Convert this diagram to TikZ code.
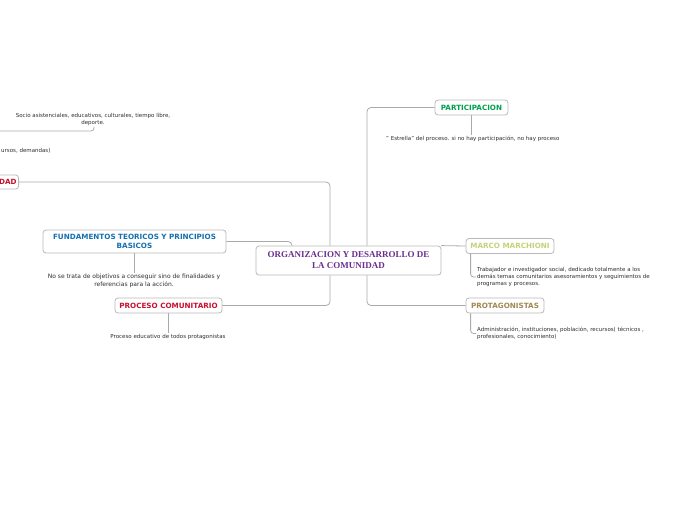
\documentclass[tikz,border=0pt]{standalone}
\usepackage{fontspec}
\setmainfont{DejaVu Sans}
\newfontfamily\titlefont{Liberation Serif}
\usepackage{tikz}
\usetikzlibrary{positioning,calc}
\definecolor{boxgray}{RGB}{185,185,185}
\definecolor{linegray}{RGB}{170,170,170}
\definecolor{txtgray}{RGB}{45,45,45}
\definecolor{orgpurple}{RGB}{107,46,142}
\definecolor{fundblue}{RGB}{21,112,176}
\definecolor{procred}{RGB}{200,16,46}
\definecolor{partgreen}{RGB}{0,160,80}
\definecolor{marcolime}{RGB}{196,210,120}
\definecolor{protolive}{RGB}{160,136,80}

\begin{document}
\begin{tikzpicture}[x=1pt, y=-1pt,
  topic/.style={rectangle, rounded corners=3pt, draw=boxgray, line width=0.8pt, fill=white, align=center, font=\fontsize{7.2}{8.5}\selectfont\bfseries, inner sep=2pt, minimum height=15pt},
  maintopic/.style={topic, font=\titlefont\fontsize{9}{11}\selectfont\bfseries, text=orgpurple, minimum width=185pt, minimum height=29pt},
  subtxt/.style={font=\fontsize{5.5}{7.2}\selectfont, text=txtgray, align=center, inner sep=1pt},
  conn/.style={draw=linegray, line width=0.8pt, rounded corners=4pt}
]
\useasboundingbox (0,0) rectangle (696,520);

% main topic
\node[maintopic] (org) at (348.5,260.5) {ORGANIZACION Y DESARROLLO DE\\ LA COMUNIDAD};

% left branch
\node[topic, text=procred, anchor=east, text width=36pt, align=right, minimum height=14pt] (dad) at (19,182) {DAD};
\node[topic, text=fundblue, minimum width=183pt, minimum height=23pt] (fund) at (134.5,241.5) {FUNDAMENTOS TEORICOS Y PRINCIPIOS\\ BASICOS};
\node[topic, text=procred, minimum width=107pt] (proc) at (168.5,305.5) {PROCESO COMUNITARIO};

\node[subtxt] (socio) at (93,119.5) {Socio asistenciales, educativos, culturales, tiempo libre,\\ deporte.};
\coordinate (socioend) at (-5,131);
\node[subtxt, anchor=west] (ursos) at (0,151) {ursos, demandas)};
\node[subtxt, font=\fontsize{6}{8}\selectfont] (fundtxt) at (134,281) {No se trata de objetivos a conseguir sino de finalidades y\\ referencias para la acción.};
\node[subtxt] (proctxt) at (168,337) {Proceso educativo de todos protagonistas};

% right branch
\node[topic, text=partgreen, minimum width=73pt] (part) at (471.5,107.5) {PARTICIPACION};
\node[topic, text=marcolime, minimum width=88pt] (marco) at (510,246) {MARCO MARCHIONI};
\node[topic, text=protolive, minimum width=78pt] (prot) at (505,305.5) {PROTAGONISTAS};

\node[subtxt, anchor=west] (parttxt) at (385,139) {" Estrella" del proceso. si no hay participación, no hay proceso};
\node[subtxt, anchor=west, align=left] (marcotxt) at (476,277) {Trabajador e investigador social, dedicado totalmente a los\\ demás temas comunitarios asesoramientos y seguimientos de\\ programas y procesos.};
\node[subtxt, anchor=west, align=left] (prottxt) at (476,333.5) {Administración, instituciones, población, recursos( técnicos ,\\ profesionales, conocimiento)};

% connectors
\draw[conn] (dad.east) -| ([xshift=-18.5pt]org.north);
\draw[conn] (fund.east) -| ([xshift=-56.5pt]org.north);
\draw[conn] (proc.east) -| ([xshift=-18.5pt]org.south);
\draw[conn] (part.west) -| ([xshift=18.5pt]org.north);
\draw[conn] ([xshift=18.5pt]org.south) |- (prot.west);
\draw[conn] (org.north east) -- (marco.west);

\draw[conn] (fund.south) -- (fund.south |- fundtxt.north);
\draw[conn] (proc.south) -- (proc.south |- proctxt.north);
\draw[conn] (part.south) -- (part.south |- parttxt.north);
\draw[conn, rounded corners=3pt] ([xshift=5pt]marco.south west) |- (marcotxt.west);
\draw[conn, rounded corners=3pt] ([xshift=5pt]prot.south west) |- (prottxt.west);
\draw[conn, rounded corners=3pt] (socioend) -| ([xshift=1pt]socio.south);
\end{tikzpicture}
\end{document}
